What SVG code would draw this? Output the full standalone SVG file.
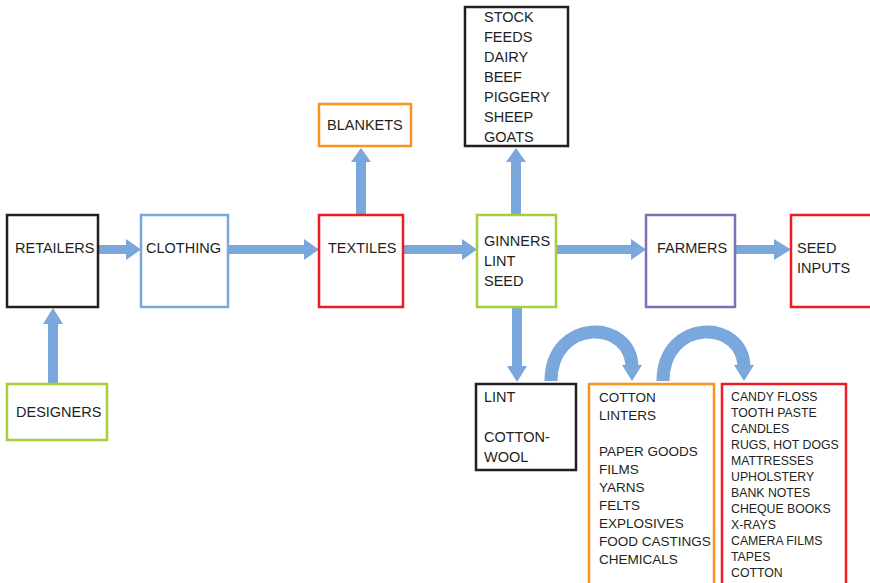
<svg xmlns="http://www.w3.org/2000/svg" width="870" height="583" viewBox="0 0 870 583">
<defs>
<style>
.box{fill:#fff;stroke-width:2.5}
.k{stroke:#231f20}.b{stroke:#7aa7dc}.r{stroke:#ed1c24}.g{stroke:#a6ce39}.p{stroke:#7f6fb8}.o{stroke:#f7941d}
text{font-family:"Liberation Sans",Arial,sans-serif;fill:#231f20}
.t{font-size:14.5px}.s{font-size:13.5px}.x{font-size:12.3px}
.ar{fill:#7aa7dc}
.arc{fill:none;stroke:#7aa7dc;stroke-width:13}
</style>
</defs>
<rect width="870" height="583" fill="#fff"/>
<g id="connectors">
<polygon class="ar" points="98,245 126,245 126,239 141,249.5 126,260 126,254 98,254"/>
<polygon class="ar" points="228,245 304,245 304,239 319,249.5 304,260 304,254 228,254"/>
<polygon class="ar" points="403,245 462,245 462,239 477,249.5 462,260 462,254 403,254"/>
<polygon class="ar" points="556,245 631,245 631,239 646,249.5 631,260 631,254 556,254"/>
<polygon class="ar" points="735,245 774,245 774,239 791,249.5 774,260 774,254 735,254"/>
<polygon class="ar" points="48,384 48,324 43,324 53,308 63,324 58,324 58,384"/>
<polygon class="ar" points="356,215 356,162 351,162 361,148 371,162 366,162 366,215"/>
<polygon class="ar" points="511,215 511,162 506,162 516,148 526,162 521,162 521,215"/>
<polygon class="ar" points="512,307 512,366 507,366 517,382 527,366 522,366 522,307"/>
<path class="arc" d="M551,381 C551,318 632,318 632,368"/>
<polygon class="ar" points="622,365 642,365 632,381"/>
<path class="arc" d="M663,381 C663,318 744,318 744,368"/>
<polygon class="ar" points="734,365 754,365 744,381"/>
</g>
<g id="retailers"><rect class="box k" x="7" y="215" width="91" height="92"/><text class="t" x="15" y="253">RETAILERS</text></g>
<g id="clothing"><rect class="box b" x="141" y="215" width="87" height="92"/><text class="t" x="146" y="253">CLOTHING</text></g>
<g id="textiles"><rect class="box r" x="319" y="215" width="84" height="92"/><text class="t" x="328" y="253">TEXTILES</text></g>
<g id="ginners"><rect class="box g" x="477" y="215" width="79" height="92"/><text class="t" x="484" y="246">GINNERS</text><text class="t" x="484" y="266">LINT</text><text class="t" x="484" y="286">SEED</text></g>
<g id="farmers"><rect class="box p" x="646" y="215" width="89" height="92"/><text class="t" x="657" y="253">FARMERS</text></g>
<g id="seed-inputs"><rect class="box r" x="791" y="215" width="90" height="92"/><text class="t" x="797" y="253">SEED</text><text class="t" x="797" y="273">INPUTS</text></g>
<g id="designers"><rect class="box g" x="7" y="384" width="100" height="56"/><text class="t" x="16" y="417">DESIGNERS</text></g>
<g id="blankets"><rect class="box o" x="319" y="104" width="92" height="42"/><text class="t" x="327" y="130">BLANKETS</text></g>
<g id="stock"><rect class="box k" x="465" y="7" width="103" height="139"/>
<text class="t" x="484" y="22">STOCK</text><text class="t" x="484" y="42">FEEDS</text><text class="t" x="484" y="62">DAIRY</text><text class="t" x="484" y="82">BEEF</text><text class="t" x="484" y="102">PIGGERY</text><text class="t" x="484" y="122">SHEEP</text><text class="t" x="484" y="142">GOATS</text></g>
<g id="lint"><rect class="box k" x="476" y="384" width="100" height="86"/><text class="t" x="484" y="402">LINT</text><text class="t" x="484" y="442">COTTON-</text><text class="t" x="484" y="462">WOOL</text></g>
<g id="cotton-linters"><rect class="box o" x="589" y="384" width="125" height="210"/>
<text class="s" x="599" y="402">COTTON</text><text class="s" x="599" y="420">LINTERS</text><text class="s" x="599" y="456">PAPER GOODS</text><text class="s" x="599" y="474">FILMS</text><text class="s" x="599" y="492">YARNS</text><text class="s" x="599" y="510">FELTS</text><text class="s" x="599" y="528">EXPLOSIVES</text><text class="s" x="599" y="546">FOOD CASTINGS</text><text class="s" x="599" y="564">CHEMICALS</text></g>
<g id="products"><rect class="box r" x="722" y="384" width="124" height="210"/>
<text class="x" x="731" y="401">CANDY FLOSS</text><text class="x" x="731" y="417">TOOTH PASTE</text><text class="x" x="731" y="433">CANDLES</text><text class="x" x="731" y="449">RUGS, HOT DOGS</text><text class="x" x="731" y="465">MATTRESSES</text><text class="x" x="731" y="481">UPHOLSTERY</text><text class="x" x="731" y="497">BANK NOTES</text><text class="x" x="731" y="513">CHEQUE BOOKS</text><text class="x" x="731" y="529">X-RAYS</text><text class="x" x="731" y="545">CAMERA FILMS</text><text class="x" x="731" y="561">TAPES</text><text class="x" x="731" y="577">COTTON</text></g>
</svg>
